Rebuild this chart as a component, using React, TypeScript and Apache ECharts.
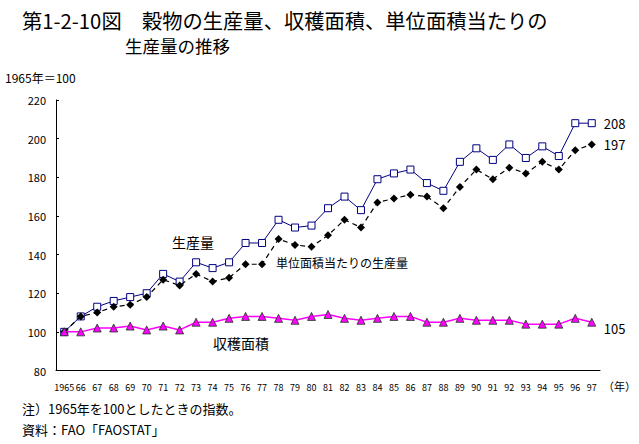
import React, { useEffect, useRef } from "react";
import * as echarts from "echarts";

const years: string[] = [
  "1965", "66", "67", "68", "69", "70", "71", "72", "73", "74", "75", "76", "77", "78", "79", "80",
  "81", "82", "83", "84", "85", "86", "87", "88", "89", "90", "91", "92", "93", "94", "95", "96", "97",
];

const production: number[] = [
  100, 108, 113, 116, 118, 120, 130, 126, 136, 133, 136, 146, 146, 158, 154, 155,
  164, 170, 163, 179, 182, 184, 177, 173, 188, 195, 189, 197, 190, 196, 191, 208, 208,
];

const yieldPerArea: number[] = [
  100, 108, 110, 113, 114, 118, 127, 124, 130, 126, 128, 135, 135, 148, 145, 144,
  150, 158, 154, 167, 169, 171, 170, 164, 175, 184, 179, 185, 182, 188, 184, 194, 197,
];

const harvestArea: number[] = [
  100, 100, 102, 102, 103, 101, 103, 101, 105, 105, 107, 108, 108, 107, 106, 108,
  109, 107, 106, 107, 108, 108, 105, 105, 107, 106, 106, 106, 104, 104, 104, 107, 105,
];

const yTicks = { min: 80, max: 220, interval: 20 };

const FONT = "'Noto Sans CJK JP', 'Noto Sans', sans-serif";

export default function App() {
  const ref = useRef<HTMLDivElement>(null);

  useEffect(() => {
    if (!ref.current) return;
    const chart = echarts.init(ref.current, undefined, { renderer: "svg" });
    chart.setOption({
      animation: false,
      backgroundColor: "#ffffff",
      textStyle: { fontFamily: FONT },
      grid: { left: 56, right: 39, top: 100, bottom: 73.5, containLabel: false },
      xAxis: {
        type: "category",
        data: years,
        boundaryGap: true,
        axisLine: { lineStyle: { color: "#000", width: 1 } },
        axisTick: { inside: true, length: 3, lineStyle: { color: "#000" } },
        axisLabel: {
          color: "#000",
          fontSize: 9,
          margin: 12,
          interval: 0,
          fontFamily: FONT,
        },
        splitLine: { show: false },
      },
      yAxis: {
        type: "value",
        min: yTicks.min,
        max: yTicks.max,
        interval: yTicks.interval,
        axisLine: { show: true, lineStyle: { color: "#000", width: 1 } },
        axisTick: { show: true, inside: true, length: 3, lineStyle: { color: "#000" } },
        axisLabel: { color: "#000", fontSize: 11, margin: 10, fontFamily: FONT },
        splitLine: { show: false },
      },
      series: [
        {
          name: "生産量",
          type: "line",
          data: production,
          symbol: "rect",
          symbolSize: 7,
          lineStyle: { color: "#000080", width: 1 },
          itemStyle: { color: "#ffffff", borderColor: "#000080", borderWidth: 1 },
          endLabel: {
            show: true,
            formatter: "{c}",
            color: "#000",
            fontSize: 13,
            fontWeight: "normal",
            distance: 12,
            fontFamily: FONT,
          },
          z: 2,
        },
        {
          name: "単位面積当たりの生産量",
          type: "line",
          data: yieldPerArea,
          symbol: "diamond",
          symbolSize: 8,
          lineStyle: { color: "#000", width: 1.2, type: [5, 4] },
          itemStyle: { color: "#000", borderColor: "#000", borderWidth: 0 },
          endLabel: {
            show: true,
            formatter: "{c}",
            color: "#000",
            fontSize: 13,
            fontWeight: "normal",
            distance: 12,
            fontFamily: FONT,
          },
          z: 3,
        },
        {
          name: "収穫面積",
          type: "line",
          data: harvestArea,
          symbol: "triangle",
          symbolSize: 8,
          lineStyle: { color: "#ff00ff", width: 1.5 },
          itemStyle: { color: "#ff00ff", borderColor: "#1a3a1a", borderWidth: 0.8 },
          endLabel: {
            show: true,
            formatter: "{c}",
            color: "#000",
            fontSize: 13,
            fontWeight: "normal",
            distance: 12,
            offset: [0, 6],
            fontFamily: FONT,
          },
          z: 4,
        },
      ],
      graphic: [
        {
          type: "text",
          left: 22,
          top: 10,
          style: {
            text: "第1-2-10図　穀物の生産量、収穫面積、単位面積当たりの",
            fontSize: 20.3,
            fontFamily: FONT,
            fill: "#000",
          },
        },
        {
          type: "text",
          left: 125,
          top: 37,
          style: { text: "生産量の推移", fontSize: 17.5, fontFamily: FONT, fill: "#000" },
        },
        {
          type: "text",
          left: 5,
          top: 71,
          style: { text: "1965年＝100", fontSize: 12, fontFamily: FONT, fill: "#000" },
        },
        {
          type: "text",
          left: 172,
          top: 235,
          style: { text: "生産量", fontSize: 14, fontFamily: FONT, fill: "#000" },
        },
        {
          type: "text",
          left: 276,
          top: 256,
          style: { text: "単位面積当たりの生産量", fontSize: 12, fontFamily: FONT, fill: "#000" },
        },
        {
          type: "text",
          left: 213,
          top: 336,
          style: { text: "収穫面積", fontSize: 14, fontFamily: FONT, fill: "#000" },
        },
        {
          type: "text",
          left: 603,
          top: 380,
          style: { text: "（年）", fontSize: 11, fontFamily: FONT, fill: "#000" },
        },
        {
          type: "text",
          left: 22,
          top: 402,
          style: { text: "注）1965年を100としたときの指数。", fontSize: 13, fontFamily: FONT, fill: "#000" },
        },
        {
          type: "text",
          left: 22,
          top: 423,
          style: { text: "資料：FAO「FAOSTAT」", fontSize: 13, fontFamily: FONT, fill: "#000" },
        },
      ],
    });
    return () => chart.dispose();
  }, []);

  return (
    <div
      ref={ref}
      style={{ position: "absolute", left: 0, top: 0, width: 639, height: 444, background: "#fff" }}
    />
  );
}
